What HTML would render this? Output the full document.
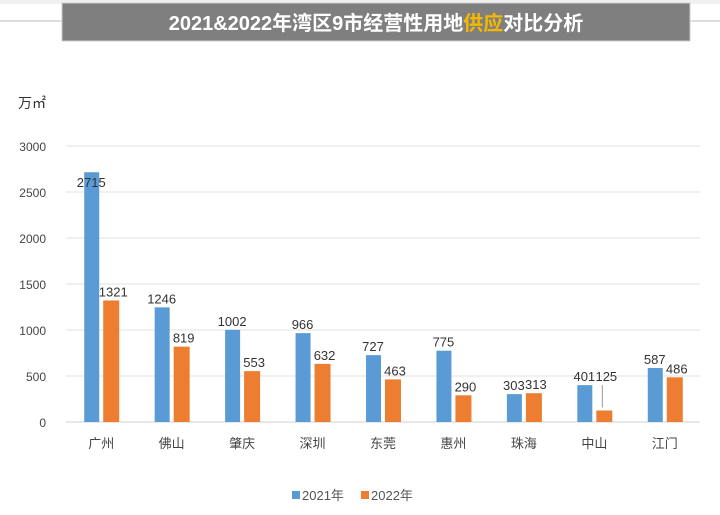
<!DOCTYPE html>
<html><head><meta charset="utf-8"><style>
body{margin:0;width:720px;height:510px;background:#fff;overflow:hidden;font-family:"Liberation Sans","Noto Sans CJK SC",sans-serif}
</style></head><body>
<svg width="720" height="510">
<rect x="0" y="0" width="720" height="4" fill="#f0f0f0"/>
<line x1="0" y1="21" x2="720" y2="21" stroke="#bbb"/>
<rect x="62" y="3" width="628" height="38" fill="#7f7f7f" stroke="#ccc"/>
<text x="376" y="30" text-anchor="middle" font-size="20" font-weight="bold" fill="#fff">2021&amp;2022年湾区9市经营性用地<tspan fill="#f5b800">供应</tspan>对比分析</text>
<text x="18" y="108" font-size="14" fill="#333">万㎡</text>
<g id="grid"></g><g id="bars"></g>
<g>
<rect x="292" y="491" width="8" height="8" fill="#5b9bd5"/>
<text x="302" y="500" font-size="13" fill="#555">2021年</text>
<rect x="361" y="491" width="8" height="8" fill="#ed7d31"/>
<text x="371" y="500" font-size="13" fill="#555">2022年</text>
</g>
</svg>
<script>
const categories=["广州","佛山","肇庆","深圳","东莞","惠州","珠海","中山","江门"];
const values2021=[2715,1246,1002,966,727,775,303,401,587];
const values2022=[1321,819,553,632,463,290,313,125,486];
const ticks=[0,500,1000,1500,2000,2500,3000];
const NS="http://www.w3.org/2000/svg";
const x0=66,x1=700,y0=422,y1=146;
const yS=v=>y0-(v/3000)*(y0-y1);
const bw=(x1-x0)/categories.length;
const xC=i=>x0+bw*(i+0.5);
function mk(t,a,p){const e=document.createElementNS(NS,t);for(const k in a)e.setAttribute(k,a[k]);p.appendChild(e);return e;}
const g=document.getElementById('grid'),b=document.getElementById('bars');
ticks.forEach(t=>{
 const l=mk('line',{x1:x0,x2:x1,y1:yS(t),y2:yS(t),stroke:t?'#e0e0e0':'#d0d0d0'},g);
 
 
 const tx=mk('text',{x:46,y:yS(t)+5,'text-anchor':'end','font-size':12,fill:'#444'},g);
 tx.textContent=t;
 
 
});
categories.forEach((c,i)=>{
 const cx=xC(i);
 const r1=mk('rect',{x:cx-17,y:yS(values2021[i]),width:15,height:y0-yS(values2021[i]),fill:'#5b9bd5'},b);
 
 
 const r2=mk('rect',{x:cx+2,y:yS(values2022[i]),width:16,height:y0-yS(values2022[i]),fill:'#ed7d31'},b);
 
 
 let l1y=yS(values2021[i])-4;
 if(i===0)l1y=yS(values2021[i])+15;
 const l1=mk('text',{x:cx-10,y:l1y,'text-anchor':'middle','font-size':13,fill:'#333'},b);
 l1.textContent=values2021[i];
 
 
 let ly=yS(values2022[i])-4;
 if(i===7){ly=yS(values2021[i])-4;mk('line',{x1:cx+8,x2:cx+8,y1:ly+4,y2:yS(values2022[i])-3,stroke:'#999'},b);}
 const l2=mk('text',{x:cx+12,y:ly,'text-anchor':'middle','font-size':13,fill:'#333'},b);
 l2.textContent=values2022[i];
 
 
 const ct=mk('text',{x:cx,y:448,'text-anchor':'middle','font-size':13,fill:'#444'},b);
 ct.textContent=c;
 
 
});
</script>
</body></html>
